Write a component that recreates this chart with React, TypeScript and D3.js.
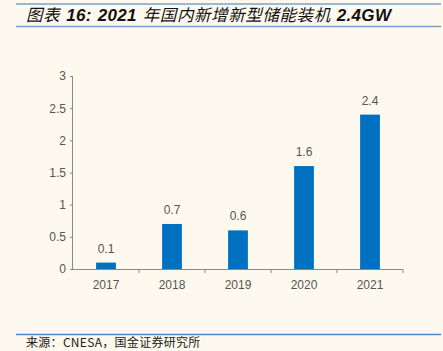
import { useEffect, useRef } from 'react'
import * as d3 from 'd3'

const YEARS = ['2017', '2018', '2019', '2020', '2021']
const CAPACITY = [0.1, 0.7, 0.6, 1.6, 2.4]
const Y_TICKS = [0, 0.5, 1, 1.5, 2, 2.5, 3]
// title split into CJK / latin runs so each gets its own font
const TITLE_PARTS: [string, boolean][] = [
  ['图表', true],
  ['16:', false],
  ['2021', false],
  ['年国内新增新型储能装机', true],
  ['2.4GW', false],
]
const SOURCE = '来源：CNESA，国金证券研究所'

export default function App() {
  const svgRef = useRef<SVGSVGElement | null>(null)

  useEffect(() => {
    const W = 443
    const H = 351
    const margin = { top: 76, right: 40, bottom: 82, left: 73 }
    const innerW = W - margin.left - margin.right
    const innerH = H - margin.top - margin.bottom

    const svg = d3.select(svgRef.current)
    svg.selectAll('*').remove()
    svg.attr('width', W).attr('height', H)

    svg.append('rect').attr('width', W).attr('height', H).attr('fill', '#fdf9ee')

    // Title block
    svg.append('line').attr('x1', 16).attr('x2', 441).attr('y1', 4).attr('y2', 4)
      .attr('stroke', '#7aa0cf').attr('stroke-width', 1.5)
    svg.append('line').attr('x1', 16).attr('x2', 441).attr('y1', 26.5).attr('y2', 26.5)
      .attr('stroke', '#7aa0cf').attr('stroke-width', 1.5)
    const title = svg.append('text')
      .attr('x', 26).attr('y', 21)
      .attr('font-style', 'italic')
      .attr('fill', '#111')
    TITLE_PARTS.forEach(([t, cjk], i) => {
      title.append('tspan')
        .attr('dx', i === 0 ? 0 : 6)
        .attr('font-family', cjk ? '"Noto Sans CJK SC", sans-serif' : '"Liberation Sans", Arial, sans-serif')
        .attr('font-size', cjk ? 16.5 : 17)
        .attr('letter-spacing', cjk ? 0.6 : 0.3)
        .attr('font-weight', cjk ? 400 : 700)
        .text(t)
    })

    const x = d3.scaleBand().domain(YEARS).range([0, innerW]).paddingInner(0.7).paddingOuter(0.35)
    const band = d3.scaleBand().domain(YEARS).range([0, innerW])
    const y = d3.scaleLinear().domain([0, 3]).range([innerH, 0])

    const g = svg.append('g').attr('transform', `translate(${margin.left},${margin.top})`)

    // Bars
    g.selectAll('rect.bar')
      .data(CAPACITY)
      .join('rect')
      .attr('class', 'bar')
      .attr('x', (_, i) => band(YEARS[i])! + band.bandwidth() / 2 - x.bandwidth() / 2)
      .attr('y', (d) => y(d))
      .attr('width', x.bandwidth())
      .attr('height', (d) => innerH - y(d))
      .attr('fill', '#0070c0')

    // Value labels
    g.selectAll('text.val')
      .data(CAPACITY)
      .join('text')
      .attr('class', 'val')
      .attr('x', (_, i) => band(YEARS[i])! + band.bandwidth() / 2)
      .attr('y', (d) => y(d) - 10)
      .attr('text-anchor', 'middle')
      .attr('font-family', '"Liberation Sans", Arial, sans-serif')
      .attr('font-size', 12)
      .attr('fill', '#555')
      .text((d) => `${d}`)

    // Y axis
    g.append('g')
      .call(d3.axisLeft(y).tickValues(Y_TICKS).tickSize(3).tickPadding(4).tickFormat((d) => `${d}`))
      .call((ax) => ax.select('.domain').attr('stroke', '#888').attr('d', `M-0.5,${innerH}V0.5`))
      .call((ax) => ax.selectAll('line').attr('stroke', '#888'))
      .call((ax) => ax.selectAll('text')
        .attr('fill', '#555')
        .attr('font-size', 12)
        .attr('font-family', '"Liberation Sans", Arial, sans-serif'))

    // X axis
    const xa = g.append('g').attr('transform', `translate(0,${innerH})`)
    xa.append('line').attr('x1', 0).attr('x2', innerW).attr('y1', 0.5).attr('y2', 0.5).attr('stroke', '#888')
    xa.selectAll('line.tick')
      .data(YEARS)
      .join('line')
      .attr('class', 'tick')
      .attr('x1', (d) => band(d)! + band.bandwidth())
      .attr('x2', (d) => band(d)! + band.bandwidth())
      .attr('y1', 0).attr('y2', 4)
      .attr('stroke', '#888')
    xa.selectAll('text')
      .data(YEARS)
      .join('text')
      .attr('x', (d) => band(d)! + band.bandwidth() / 2)
      .attr('y', 20)
      .attr('text-anchor', 'middle')
      .attr('font-family', '"Liberation Sans", Arial, sans-serif')
      .attr('font-size', 12)
      .attr('fill', '#555')
      .text((d) => d)

    // Source
    svg.append('line').attr('x1', 16).attr('x2', 441).attr('y1', 334.5).attr('y2', 334.5)
      .attr('stroke', '#4a86d0').attr('stroke-width', 1.5)
    svg.append('text')
      .attr('x', 26).attr('y', 347)
      .attr('font-family', '"Noto Sans CJK SC", "Liberation Sans", sans-serif')
      .attr('font-size', 12)
      .attr('letter-spacing', 0.3)
      .attr('fill', '#222')
      .text(SOURCE)
  }, [])

  return (
    <div style={{ position: 'absolute', left: 0, top: 0 }}>
      <svg ref={svgRef} style={{ display: 'block' }} />
    </div>
  )
}
